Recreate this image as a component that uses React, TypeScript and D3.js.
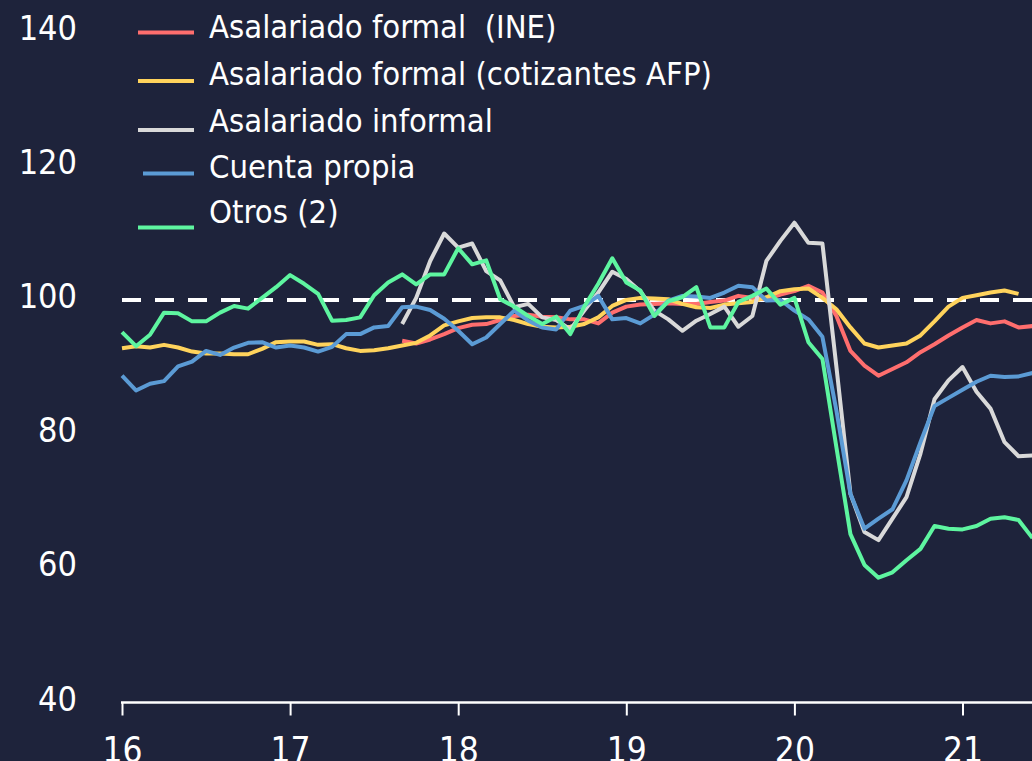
import React, { useEffect, useRef } from 'react';
import * as d3 from 'd3';

// monthly series, Jan 2016 = index 0 (base 100)
const startYear = 16;
const yTicks = [40, 60, 80, 100, 120, 140];
const xTicks = [16, 17, 18, 19, 20, 21];

const asalFormalINE: (number | null)[] = [
  null, null, null, null, null, null, null, null, null, null, null, null,
  null, null, null, null, null, null, null, null,
  93.9, 93.5, 94.1, 94.9, 95.8, 96.3, 96.4, 97.0, 97.6, 97.8, 97.5, 97.4,
  97.1, 97.1, 96.5, 98.1, 99.0, 99.3, 99.4, 99.5, 99.4, 99.4, 99.7, 99.9,
  100.6, 100.3, 100.1, 100.8, 101.3, 102.1, 101.1, 97.6, 92.4, 90.2, 88.7, 89.7,
  90.7, 92.2, 93.4, 94.7, 95.9, 97.0, 96.5, 96.8, 95.9, 96.1,
];

const asalFormalAFP: (number | null)[] = [
  92.8, 93.1, 92.9, 93.3, 92.9, 92.3, 92.0, 92.0, 91.9, 91.9, 92.7, 93.7,
  93.8, 93.8, 93.3, 93.4, 92.8, 92.4, 92.5, 92.8, 93.2, 93.6, 94.7, 96.2,
  96.8, 97.3, 97.4, 97.4, 97.0, 96.4, 96.0, 95.9, 96.0, 96.4, 97.4, 99.1,
  100.0, 100.3, 100.2, 100.1, 99.4, 98.9, 98.8, 99.3, 99.5, 99.7, 100.4, 101.3,
  101.6, 101.7, 100.3, 98.6, 95.9, 93.5, 92.9, 93.2, 93.5, 94.7, 96.8, 99.0,
  100.3, 100.7, 101.1, 101.4, 100.9,
];

const asalInformal: (number | null)[] = [
  null, null, null, null, null, null, null, null, null, null, null, null,
  null, null, null, null, null, null, null, null,
  96.4, 100.3, 105.8, 109.9, 107.8, 108.4, 104.3, 102.9, 98.9, 99.4, 97.4, 97.0,
  95.6, 98.4, 101.1, 104.2, 103.1, 101.3, 98.4, 97.1, 95.4, 96.9, 97.9, 99.0,
  96.0, 97.6, 105.8, 108.8, 111.5, 108.5, 108.4, 90.0, 71.1, 65.4, 64.2, 67.4,
  70.6, 77.1, 85.2, 88.0, 90.0, 86.3, 83.8, 78.8, 76.7, 76.8,
];

const cuentaPropia: (number | null)[] = [
  88.7, 86.5, 87.5, 87.9, 90.1, 90.8, 92.4, 91.8, 92.9, 93.6, 93.7, 92.9,
  93.2, 92.9, 92.3, 93.0, 94.9, 94.9, 95.9, 96.1, 98.9, 99.0, 98.5, 97.2,
  95.4, 93.4, 94.4, 96.4, 98.4, 96.9, 95.9, 95.6, 98.4, 99.1, 100.6, 97.1,
  97.3, 96.5, 97.8, 99.9, 100.6, 100.5, 100.3, 101.1, 102.1, 101.9, 99.9, 100.0,
  98.4, 97.1, 94.5, 83.5, 71.1, 65.9, 67.4, 68.8, 73.1, 78.8, 84.2, 85.4,
  86.6, 87.8, 88.7, 88.5, 88.6, 89.1,
];

const otros: (number | null)[] = [
  95.2, 93.1, 94.8, 98.1, 98.0, 96.8, 96.8, 98.1, 99.1, 98.7, 100.3, 101.9,
  103.7, 102.4, 100.9, 96.9, 97.0, 97.4, 100.7, 102.6, 103.8, 102.3, 103.8, 103.8,
  107.7, 105.3, 105.9, 100.1, 99.0, 97.6, 96.4, 97.5, 94.9, 99.0, 102.4, 106.2,
  102.6, 101.4, 97.6, 99.8, 100.4, 101.9, 95.9, 95.9, 99.7, 100.6, 101.7, 99.3,
  100.3, 93.7, 91.2, 78.0, 65.1, 60.5, 58.6, 59.4, 61.2, 62.9, 66.3, 65.9,
  65.8, 66.3, 67.4, 67.6, 67.2, 64.5,
];

const seriesNames = [
  'Asalariado formal  (INE)',
  'Asalariado formal (cotizantes AFP)',
  'Asalariado informal',
  'Cuenta propia',
  'Otros (2)',
];
const seriesData = [asalFormalINE, asalFormalAFP, asalInformal, cuentaPropia, otros];
const seriesColors = ['#ff6e6e', '#ffd35c', '#d9d9d9', '#5b9bd5', '#5ef5a0'];

const W = 1032;
const H = 761;
const BG = '#1e233b';
const FONT = '"DejaVu Sans Condensed", "Open Sans", sans-serif';

const App = () => {
  const svgRef = useRef<SVGSVGElement>(null);

  useEffect(() => {
    if (!svgRef.current) return;
    const svg = d3.select(svgRef.current);
    svg.selectAll('*').remove();

    const x = d3.scaleLinear().domain([16, 21]).range([122, 962.5]);
    const y = d3.scaleLinear().domain([40, 140]).range([702.5, 31.5]);

    svg.append('rect').attr('width', W).attr('height', H).attr('fill', BG);

    // y labels (no axis line)
    svg.append('g')
      .selectAll('text')
      .data(yTicks)
      .enter()
      .append('text')
      .attr('x', 77)
      .attr('y', d => y(d) + 8)
      .attr('text-anchor', 'end')
      .attr('fill', '#fff')
      .attr('font-size', 34)
      .attr('font-family', FONT)
      .text(d => d);

    // x axis
    const xAxis = d3.axisBottom(x)
      .tickValues(xTicks)
      .tickSize(13)
      .tickSizeOuter(0)
      .tickFormat(d => String(d));
    const gx = svg.append('g').attr('transform', `translate(0,${y(40)})`).call(xAxis);
    gx.select('.domain').remove();
    gx.selectAll('.tick line').attr('stroke', '#fff').attr('stroke-width', 2);
    gx.selectAll('.tick text')
      .attr('fill', '#fff')
      .attr('font-size', 35)
      .attr('font-family', FONT)
      .attr('dy', null)
      .attr('y', 59);
    gx.append('line')
      .attr('x1', x(16) - 1)
      .attr('x2', W)
      .attr('y1', 0)
      .attr('y2', 0)
      .attr('stroke', '#fff')
      .attr('stroke-width', 2.5);

    // reference line at 100
    svg.append('line')
      .attr('x1', x(16))
      .attr('x2', W)
      .attr('y1', y(100))
      .attr('y2', y(100))
      .attr('stroke', '#fff')
      .attr('stroke-width', 4)
      .attr('stroke-dasharray', '19,14');

    const line = d3.line<number | null>()
      .defined(d => d !== null)
      .x((_, i) => x(startYear + i / 12))
      .y(d => y(d as number));

    seriesData.forEach((vals, k) => {
      svg.append('path')
        .datum(vals)
        .attr('d', line)
        .attr('fill', 'none')
        .attr('stroke', seriesColors[k])
        .attr('stroke-width', 4)
        .attr('stroke-linejoin', 'round');
    });

    // legend
    const legendBase = [38, 85, 131.5, 177.5, 223];
    const legendLineY = [32.5, 81, 130, 173.5, 227.5];
    const legendLineX = [138, 138, 138, 143, 138];
    const legend = svg.append('g');
    seriesNames.forEach((name, k) => {
      legend.append('line')
        .attr('x1', legendLineX[k])
        .attr('x2', 194)
        .attr('y1', legendLineY[k])
        .attr('y2', legendLineY[k])
        .attr('stroke', seriesColors[k])
        .attr('stroke-width', 4);
      legend.append('text')
        .attr('x', 209)
        .attr('y', legendBase[k])
        .attr('fill', '#fff')
        .attr('font-size', 32.5)
        .attr('font-family', FONT)
        .style('white-space', 'pre')
        .text(name);
    });
  }, []);

  return (
    <svg
      ref={svgRef}
      width={W}
      height={H}
      style={{ position: 'absolute', left: 0, top: 0, display: 'block' }}
    />
  );
};

export default App;
